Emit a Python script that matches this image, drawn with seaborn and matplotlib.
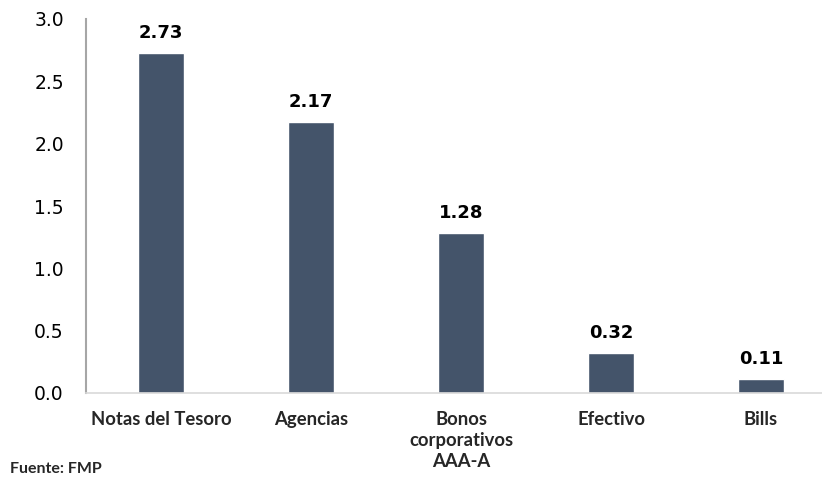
import matplotlib
matplotlib.use("Agg")
import matplotlib.pyplot as plt
import seaborn as sns
import pandas as pd

categories = ["Notas del Tesoro", "Agencias", "Bonos\ncorporativos\nAAA-A", "Efectivo", "Bills"]
values = [2.73, 2.17, 1.28, 0.32, 0.11]
yticks = [0.0, 0.5, 1.0, 1.5, 2.0, 2.5, 3.0]

sns.set_style("white")
plt.rcParams['font.family'] = ['DejaVu Sans']

df = pd.DataFrame({"cat": categories, "val": values})

W, H = 822, 478
fig = plt.figure(figsize=(W / 100, H / 100), dpi=100)
ax = fig.add_axes([86 / W, (H - 393) / H, (W - 86) / W, (393 - 19) / H])

sns.barplot(data=df, x="cat", y="val", color="#44546A", saturation=1, width=0.307, ax=ax)

ax.set_xlim(-0.5, -0.5 + (W - 86) / 150)
ax.set_ylim(0, 3.0)
ax.set_yticks(yticks)
ax.set_yticklabels([f"{t:.1f}" for t in yticks], fontsize=13.5, color="#000000")
ax.tick_params(axis="y", length=0, pad=16)
ax.tick_params(axis="x", length=0, pad=13)
for lab in ax.get_xticklabels():
    lab.set_fontfamily("Lato")
    lab.set_fontweight("bold")
    lab.set_fontsize(13.3)
    lab.set_linespacing(1.3)
ax.set_xlabel("")
ax.set_ylabel("")

for s in ["top", "right"]:
    ax.spines[s].set_visible(False)
ax.spines["left"].set_color("#A6A6A6")
ax.spines["left"].set_linewidth(1.5)
ax.spines["bottom"].set_color("#D9D9D9")
ax.spines["bottom"].set_linewidth(1.2)

ax.bar_label(ax.containers[0], fmt="%.2f", padding=8, fontsize=13, fontweight="bold", color="#000000")

fig.text(10 / W, 1 - 469 / H, "Fuente: FMP", fontsize=11.5, fontweight="bold",
         fontfamily="Lato", va="center", ha="left")

fig.savefig("out.png", dpi=100)
